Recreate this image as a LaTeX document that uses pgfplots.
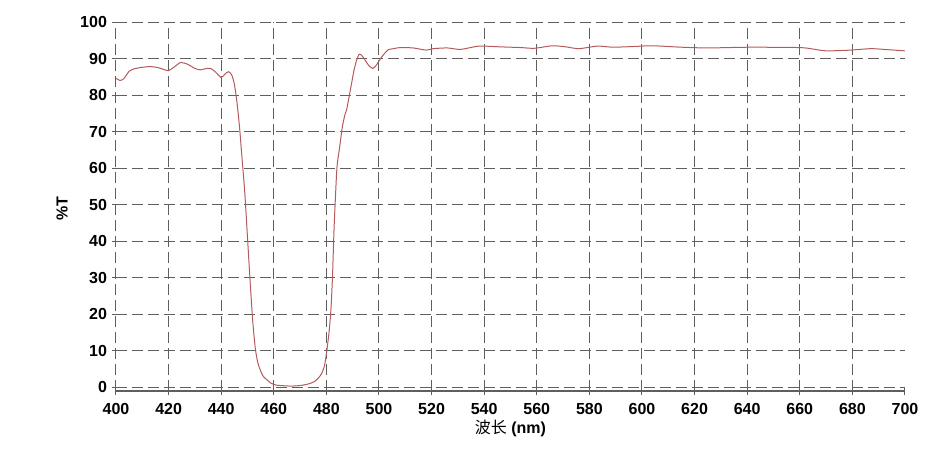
\documentclass[border=0pt]{standalone}
\usepackage{fontspec}
\setmainfont{Liberation Sans}
\newfontfamily\cjk{Noto Sans CJK SC}
\usepackage{pgfplots}
\pgfplotsset{compat=1.18}
\definecolor{curve}{RGB}{180,90,90}
\definecolor{gridc}{RGB}{95,95,95}
\begin{document}
\begin{tikzpicture}
\useasboundingbox (-58pt,-33pt) rectangle (417pt,195.5pt);
\begin{axis}[
  scale only axis,
  width=394.5pt, height=184.5pt,
  xmin=400, xmax=700, ymin=-1, ymax=100,
  xtick={400,420,...,680},
  extra x ticks={700},
  extra x tick style={grid=none},
  ytick={0,10,...,100},
  grid=major,
  major grid style={gridc, line width=0.5pt, dash pattern=on 5.5pt off 2.5pt},
  axis x line*=bottom,
  axis y line*=left,
  x axis line style={gridc, line width=0.6pt, -},
  y axis line style={draw=none},
  tick style={gridc, line width=0.5pt},
  tick align=center,
  major tick length=4pt,
  /pgf/number format/assume math mode=true,
  ticklabel style={font=\fontsize{8}{9}\selectfont\bfseries},
  xticklabel style={yshift=-0.5pt},
  yticklabel style={xshift=1pt},
  xlabel={{\cjk 波长} \textbf{(nm)}},
  ylabel={\textbf{\%T}},
  every axis x label/.style={at={(axis description cs:0.5,0)}, anchor=center, yshift=-18.5pt, font=\fontsize{8}{9}\selectfont},
  every axis y label/.style={at={(axis description cs:0,0.495)}, xshift=-27pt, anchor=center, rotate=90, font=\fontsize{8}{9}\selectfont},
]
\addplot[curve, line width=0.5pt, smooth, tension=0.4] coordinates {
(400,84.6) (401.5,84.0) (403,84.5) (405,86.5) (407,87.2) (410,87.6) (413,87.8)
(416,87.5) (419,86.8) (420,86.7) (422,87.6) (424.5,88.9) (427,88.5) (430,87.3)
(432,86.9) (434,87.2) (436,87.3) (438,86.2) (440,84.8) (441.5,85.8) (442.8,86.4)
(444,85.5) (445,83) (446,78) (447,71) (448,62) (449,53) (450,41) (451,29)
(452,18) (453,10.5) (454,6.5) (455,4.5) (456,3) (457.5,2) (459,1.1) (461,0.6)
(463.5,0.45) (466,0.35) (468.5,0.4) (471,0.6) (473.5,1.0) (475.5,1.6) (477,2.6)
(478.2,3.8) (479.3,6) (480.1,9.7) (481,15) (481.7,21) (482.3,30) (483,45)
(484,60) (485,65.5) (486,71) (487,74.5) (487.7,76) (489.6,83.3) (490.5,86.8)
(491.5,89.6) (492.5,91.2) (493.5,90.8) (494.7,89.6) (496,88.2) (497.6,87.3)
(499,88.2) (500.4,89.8) (502,91.3) (503.5,92.4) (505.5,92.7) (508,93.0)
(513,92.9) (518,92.3) (520.5,92.7) (526,92.9) (531,92.5) (538,93.4) (546,93.2)
(554,93.0) (559,92.8) (566,93.5) (571,93.2) (576,92.7) (583,93.4) (589,93.1)
(597,93.3) (604,93.5) (615,93.1) (625,92.9) (641,93.1) (660,93.0) (665,92.6)
(670,92.1) (679,92.3) (687,92.7) (692,92.5) (700,92.1)
};
\end{axis}
\end{tikzpicture}
\end{document}
